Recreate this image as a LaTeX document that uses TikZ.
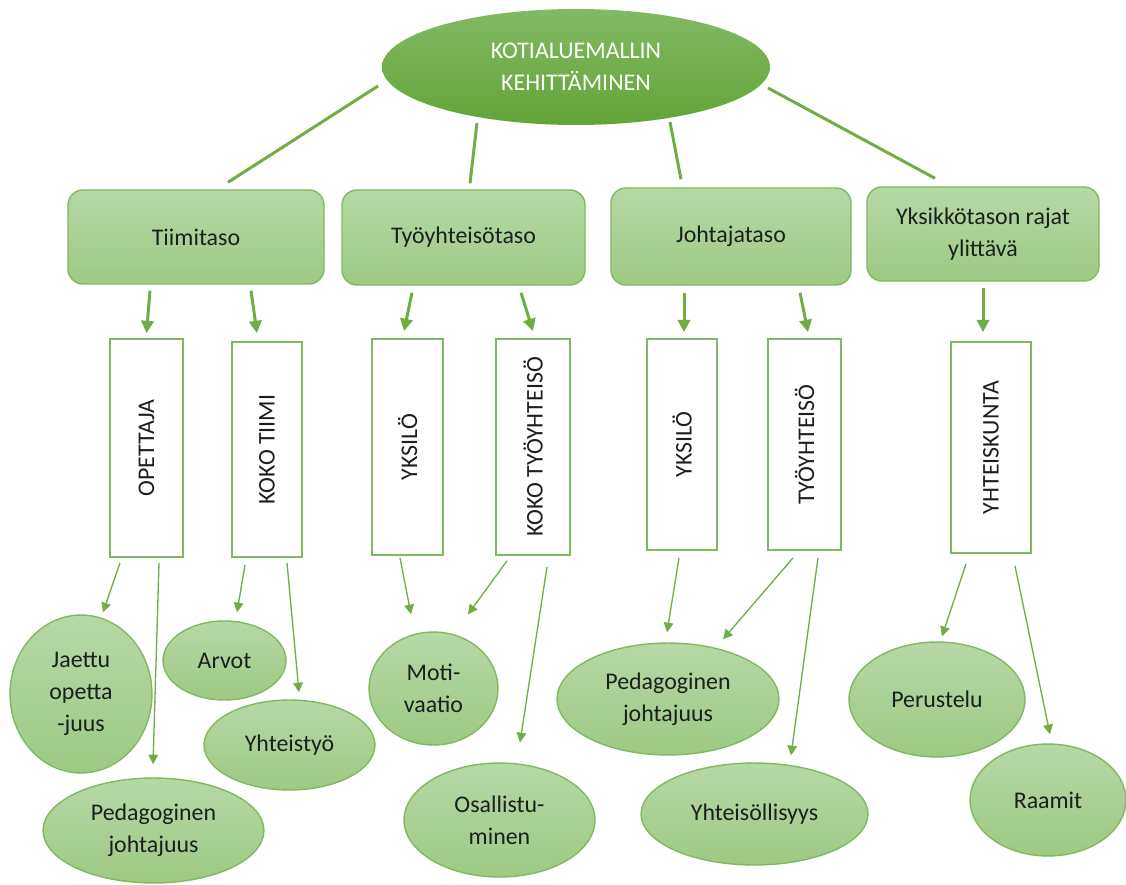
\documentclass[tikz,border=0pt]{standalone}
\usepackage{fontspec}
\setmainfont{Carlito}
\usetikzlibrary{shapes.geometric,arrows.meta,calc}
\definecolor{gdark}{HTML}{70AD47}
\definecolor{lighttop}{HTML}{B6D8A5}
\definecolor{lightbot}{HTML}{9DCA83}
\definecolor{topT}{HTML}{82BA65}
\definecolor{topB}{HTML}{62A438}
\definecolor{bord}{HTML}{7FB961}
\definecolor{txt}{HTML}{1E1E1E}
\begin{document}
\begin{tikzpicture}[x=0.02cm,y=-0.02cm,
  base/.style={font=\fontsize{13.6}{18}\selectfont, text=txt, align=center, inner sep=0pt},
  leaf/.style 2 args={base, ellipse, draw=bord, line width=0.8pt, top color=lighttop, bottom color=lightbot, minimum width=#1*0.04cm, minimum height=#2*0.04cm},
  levelbox/.style 2 args={base, rectangle, rounded corners=0.3cm, draw=bord, line width=0.8pt, top color=lighttop, bottom color=lightbot, minimum width=#1*0.02cm, minimum height=#2*0.02cm},
  vbox/.style 2 args={base, rectangle, draw=bord, line width=1pt, fill=white, minimum width=#1*0.02cm, minimum height=#2*0.02cm},
  vtext/.style={base, rotate=90},
  link/.style={draw=gdark, line width=1.7pt},
  bigarrow/.style={draw=gdark, line width=1.7pt, -{Triangle[length=7pt,width=7pt]}},
  thinarrow/.style={draw=gdark, line width=0.75pt, -{Triangle[length=5.5pt,width=5.5pt]}},
]
\useasboundingbox (0,0) rectangle (1126,885);

% root
\node[base, ellipse, top color=topT, bottom color=topB, text=white,
      minimum width=388*0.02cm, minimum height=116*0.02cm] (root) at (576,67)
      {KOTIALUEMALLIN\\KEHITTÄMINEN};

% level boxes
\node[levelbox={256}{94}] (tiimi) at (196,237) {Tiimitaso};
\node[levelbox={243}{95}] (tyo) at (463.5,237.5) {Työyhteisötaso};
\node[levelbox={240}{97}] (johto) at (731,236.5) {Johtajataso};
\node[levelbox={232}{94}] (yks) at (983,234) {Yksikkötason rajat\\ylittävä};

% vertical boxes
\node[vbox={73}{218}] (opett) at (146.5,448) {};
\node[vtext] at (opett.center) {OPETTAJA};
\node[vbox={70}{215}] (kokot) at (267,449.5) {};
\node[vtext] at (kokot.center) {KOKO TIIMI};
\node[vbox={71}{216}] (yksilo) at (407.5,447) {};
\node[vtext] at (yksilo.center) {YKSILÖ};
\node[vbox={74}{216}] (kokoty) at (533,447) {};
\node[vtext] at (kokoty.center) {KOKO TYÖYHTEISÖ};
\node[vbox={70}{211}] (yks2) at (682,444.5) {};
\node[vtext] at (yks2.center) {YKSILÖ};
\node[vbox={73}{211}] (tyoy) at (804.5,444.5) {};
\node[vtext] at (tyoy.center) {TYÖYHTEISÖ};
\node[vbox={80}{211}] (yhtk) at (991,447.5) {};
\node[vtext] at (yhtk.center) {YHTEISKUNTA};

% leaf ellipses
\node[leaf={71}{79}] (jaettu) at (81,694) {Jaettu\\opetta\\-juus};
\node[leaf={61.5}{39.5}] (arvot) at (224.5,660.5) {Arvot};
\node[leaf={85.5}{45}] (yhteis) at (289.5,745) {Yhteistyö};
\node[leaf={110.5}{52.5}] (ped1) at (153.5,830.5) {Pedagoginen\\johtajuus};
\node[leaf={64.5}{56.5}] (moti) at (433.5,688.5) {Moti-\\vaatio};
\node[leaf={95.5}{57}] (osall) at (499.5,820) {Osallistu-\\minen};
\node[leaf={111}{56}] (ped2) at (668,699) {Pedagoginen\\johtajuus};
\node[leaf={113.5}{51}] (yhtsl) at (754.5,814) {Yhteisöllisyys};
\node[leaf={88}{57.5}] (perus) at (937,699.5) {Perustelu};
\node[leaf={78}{56}] (raamit) at (1048,800) {Raamit};

% root links
\draw[link] ($(root.center)+(-198,19)$) -- ($(tiimi.north)+(32,-7)$);
\draw[link] ($(root.center)+(-99,56)$) -- ($(tyo.north)+(6.5,-6)$);
\draw[link] ($(root.center)+(94,55)$) -- ($(johto.north)+(-50,-8)$);
\draw[link] ($(root.center)+(192,21)$) -- ($(yks.north)+(-48,-8)$);

% thick arrows
\draw[bigarrow] ($(tiimi.south)+(-46,6)$) -- ($(opett.north)+(0,-5)$);
\draw[bigarrow] ($(tiimi.south)+(55,6)$) -- ($(kokot.north)+(-10,-8)$);
\draw[bigarrow] ($(tyo.south)+(-51.5,7)$) -- ($(yksilo.north)+(-3.5,-7)$);
\draw[bigarrow] ($(tyo.south)+(57.5,7)$) -- ($(kokoty.north)+(0,-7)$);
\draw[bigarrow] ($(johto.south)+(-47,7)$) -- ($(yks2.north)+(2,-6)$);
\draw[bigarrow] ($(johto.south)+(69,7)$) -- ($(tyoy.north)+(3.5,-6)$);
\draw[bigarrow] ($(yks.south)+(0,6)$) -- ($(yhtk.north)+(-8,-9)$);

% thin arrows
\draw[thinarrow] ($(opett.south)+(-26.5,5)$) -- ($(jaettu.north)+(22,-2)$);
\draw[thinarrow] ($(opett.south)+(12.5,5)$) -- ($(ped1.north)+(-0.5,-13)$);
\draw[thinarrow] ($(kokot.south)+(-22,7)$) -- ($(arvot.north)+(12.5,-8)$);
\draw[thinarrow] ($(kokot.south)+(20,5)$) -- ($(yhteis.north)+(9.5,-7)$);
\draw[thinarrow] ($(yksilo.south)+(-7.5,2)$) -- ($(moti.north)+(-22.5,-17)$);
\draw[thinarrow] ($(kokoty.south)+(-26,5)$) -- ($(moti.north)+(34.5,-17)$);
\draw[thinarrow] ($(kokoty.south)+(14,11)$) -- ($(osall.north)+(20.5,-20)$);
\draw[thinarrow] ($(yks2.south)+(-3,7)$) -- ($(ped2.north)+(-1,-10)$);
\draw[thinarrow] ($(tyoy.south)+(-11.5,7)$) -- ($(ped2.north)+(55,-3)$);
\draw[thinarrow] ($(tyoy.south)+(13.5,7)$) -- ($(yhtsl.north)+(36.5,-7)$);
\draw[thinarrow] ($(yhtk.south)+(-25,10)$) -- ($(perus.north)+(5,-5)$);
\draw[thinarrow] ($(yhtk.south)+(24,12)$) -- ($(raamit.north)+(2,-9)$);
\end{tikzpicture}
\end{document}
